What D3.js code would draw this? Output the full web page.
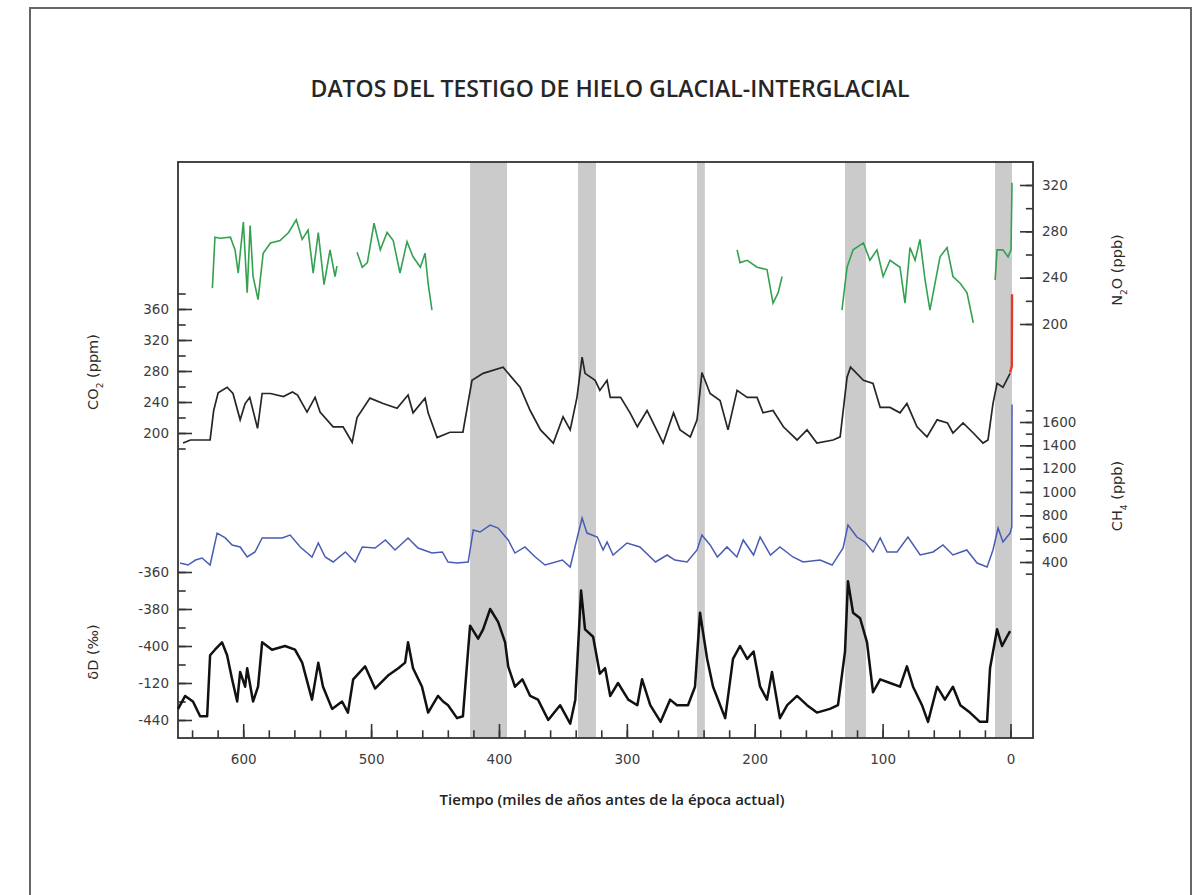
<!DOCTYPE html>
<html>
<head>
<meta charset="utf-8">
<script src="https://cdn.jsdelivr.net/npm/d3@7"></script>
<style>
	body { margin: 0; background: #fff; }
	svg { display: block; }
	.tick text { font-family: "DejaVu Sans", sans-serif; font-size: 13.5px; fill: #3c3c3c; }
	.tick line { stroke: #333; stroke-width: 1.6; }
</style>
</head>
<body>
<div id="chart"></div>
<script>
// ice core data: [thousand years before present, value]
var co2Data = [[647.0,187],[641.3,191],[625.9,191],[623.1,229],[619.6,252],[612.6,259],[608.0,251],[602.4,217],[598.5,238],[594.9,246],[588.8,206],[585.2,251],[578.7,251],[568.6,247],[561.5,253],[557.5,249],[550.1,227],[543.8,246],[539.9,227],[529.7,208],[521.9,208],[514.8,188],[511.0,220],[500.9,245],[490.6,238],[479.7,232],[471.1,249],[467.2,226],[457.8,245],[455.4,226],[448.4,194],[438.3,201],[428.2,201],[421.1,268],[412.4,277],[396.8,285],[392.8,277],[383.5,259],[375.6,229],[367.5,204],[357.5,187],[349.9,221],[344.3,204],[339.0,246],[335.0,298],[332.7,277],[324.8,268],[321.1,255],[315.5,268],[313.0,246],[304.9,246],[297.5,226],[291.8,208],[284.2,229],[271.6,187],[263.5,226],[258.4,204],[250.4,195],[245.1,217],[241.3,278],[234.9,251],[227.1,242],[220.9,204],[213.8,255],[205.9,246],[198.2,246],[193.5,226],[185.7,229],[177.6,208],[166.9,191],[159.1,204],[151.4,187],[138.7,191],[133.2,195],[127.8,272],[125.1,285],[115.0,268],[107.5,264],[101.9,233],[94.2,233],[86.4,226],[81.0,238],[73.1,208],[65.3,195],[57.4,217],[49.3,213],[45.0,200],[37.1,213],[29.1,200],[21.5,187],[17.6,191],[13.7,238],[10.5,264],[5.9,259],[0.3,277]];
var co2Modern = [[0.3,278],[-1.0,286],[-1.2,379]];

var ch4Data = [[649.4,391],[643.2,374],[637.3,417],[632.2,434],[625.9,374],[620.4,648],[614.0,606],[608.7,546],[602.4,529],[596.9,443],[590.8,486],[585.2,606],[577.5,606],[569.6,606],[563.3,631],[555.4,529],[546.2,443],[541.3,563],[535.9,443],[529.7,400],[520.1,486],[512.5,400],[506.9,529],[496.9,520],[488.8,589],[481.3,503],[471.1,606],[463.3,520],[452.4,477],[444.3,486],[439.8,400],[432.8,391],[424.1,400],[420.1,674],[414.8,657],[406.9,717],[400.7,691],[392.8,589],[387.5,477],[379.7,529],[371.6,443],[364.0,374],[350.4,417],[344.3,357],[338.3,631],[335.0,777],[331.2,648],[323.1,614],[318.6,503],[315.5,571],[310.8,460],[299.9,563],[289.8,529],[277.6,400],[268.5,460],[262.5,417],[252.9,400],[245.1,503],[241.3,631],[234.9,546],[229.2,443],[221.7,529],[214.0,443],[209.0,589],[200.9,460],[195.8,614],[187.7,460],[180.3,529],[170.1,443],[162.2,400],[148.9,417],[139.5,374],[130.9,520],[127.1,717],[120.1,614],[113.8,571],[107.5,486],[101.9,606],[96.5,486],[88.7,486],[80.2,614],[70.6,460],[60.5,486],[52.8,546],[45.0,460],[34.2,503],[26.1,391],[18.3,357],[13.7,503],[9.7,691],[5.9,571],[0.3,648],[-1.0,700],[-1.2,1750]];

var n2oSegments = [
	[[624.1,231],[622.1,275],[618.1,274],[610.0,275],[606.4,264],[603.9,244],[599.9,288],[596.9,227],[594.6,285],[592.3,241],[588.4,221],[584.4,261],[578.7,270],[571.2,272],[564.5,279],[558.5,290],[553.9,273],[549.3,281],[545.3,244],[541.3,279],[536.8,234],[532.1,264],[528.2,241],[526.7,250]],
	[[511.0,262],[506.9,249],[502.9,253],[497.7,287],[492.8,264],[487.5,279],[482.7,272],[477.4,244],[471.9,271],[467.2,258],[461.5,249],[457.8,261],[455.4,235],[452.4,212]],
	[[213.8,264],[211.5,253],[205.9,255],[198.2,249],[190.4,247],[185.7,218],[181.7,227],[178.6,241]],
	[[131.8,212],[127.8,249],[123.1,264],[115.0,270],[109.9,255],[104.4,264],[99.6,241],[94.2,255],[86.4,249],[82.5,218],[78.6,266],[74.6,255],[70.8,273],[66.8,238],[63.0,212],[55.1,258],[49.6,266],[45.0,241],[39.2,235],[34.0,227],[29.1,201]],
	[[12.0,238],[10.5,264],[5.9,264],[1.9,258],[-0.4,264],[-1.2,322]]
];

var dDData = [[650.9,-434],[645.4,-427],[639.3,-430],[633.7,-438],[628.2,-438],[625.9,-405],[622.1,-402],[616.6,-398],[612.6,-405],[608.7,-418],[604.7,-430],[602.4,-414],[598.5,-422],[596.9,-412],[592.3,-430],[588.4,-422],[585.2,-398],[577.5,-402],[567.3,-400],[559.5,-402],[553.9,-409],[546.2,-429],[541.3,-409],[537.6,-422],[530.5,-434],[522.7,-430],[518.1,-436],[514.0,-418],[504.7,-411],[496.9,-423],[486.8,-416],[478.7,-412],[473.4,-409],[471.1,-398],[467.2,-412],[460.2,-422],[455.4,-436],[447.7,-427],[443.7,-430],[439.8,-432],[432.8,-439],[428.2,-438],[422.6,-389],[416.3,-396],[412.4,-391],[406.9,-380],[400.7,-387],[395.2,-398],[392.8,-411],[387.5,-422],[381.7,-418],[375.6,-427],[369.5,-429],[361.5,-440],[352.2,-432],[344.3,-442],[340.3,-429],[335.8,-370],[332.7,-391],[326.4,-395],[321.1,-415],[317.0,-412],[313.0,-427],[306.9,-420],[298.9,-429],[291.8,-432],[288.1,-418],[281.7,-432],[273.6,-441],[266.2,-429],[260.8,-432],[252.2,-432],[246.7,-422],[242.8,-382],[237.2,-407],[232.6,-422],[223.1,-439],[217.0,-407],[211.5,-400],[205.9,-407],[200.9,-403],[195.8,-422],[190.4,-429],[186.5,-414],[180.3,-439],[174.6,-432],[166.9,-427],[159.1,-432],[151.4,-436],[141.2,-434],[134.9,-432],[129.4,-403],[127.1,-365],[123.1,-382],[117.6,-385],[112.2,-398],[107.5,-425],[101.9,-418],[94.2,-420],[86.4,-422],[81.0,-411],[76.2,-422],[69.2,-432],[64.5,-441],[57.4,-422],[51.3,-429],[45.0,-422],[39.2,-432],[31.7,-436],[23.9,-441],[18.3,-441],[16.0,-412],[10.5,-391],[6.6,-400],[2.8,-395],[0.3,-392]];

// interglacial periods (shaded)
var interglacials = [[422.6,393.7],[338.2,324.1],[245.1,239.0],[129.4,113.0],[12.1,-1.2]];

// tick values and labels
var timeTicks = [600,500,400,300,200,100,0],
	co2Ticks = [200,240,280,320,360],
	n2oTicks = [200,240,280,320],
	ch4Ticks = [400,600,800,1000,1200,1400,1600],
	dDTicks = [-440,-420,-400,-380,-360],
	dDTickLabels = ["-440","-120","-400","-380","-360"];

var title = "DATOS DEL TESTIGO DE HIELO GLACIAL-INTERGLACIAL",
	xTitle = "Tiempo (miles de años antes de la época actual)";

// layout
var W = 1192, H = 895,
	plotL = 178, plotR = 1033, plotT = 162, plotB = 738;

var svg = d3.select("#chart").append("svg")
	.attr("width", W)
	.attr("height", H);

// outer border of the figure
svg.append("rect")
	.attr("x", 30).attr("y", 8)
	.attr("width", 1161).attr("height", 900)
	.attr("fill", "none")
	.attr("stroke", "#666")
	.attr("stroke-width", 2);

// scales
var x = d3.scaleLinear().domain([651, -17.6]).range([plotL, plotR]);
var co2Y = d3.scaleLinear().domain([200, 360]).range([433, 309]);
var ch4Y = d3.scaleLinear().domain([400, 1600]).range([562, 422]);
var n2oY = d3.scaleLinear().domain([200, 320]).range([324, 185]);
var dDY = d3.scaleLinear().domain([-440, -360]).range([720, 572]);

// shaded interglacials
svg.append("g").selectAll("rect")
	.data(interglacials)
	.enter().append("rect")
	.attr("x", function(d) { return x(d[0]); })
	.attr("width", function(d) { return x(d[1]) - x(d[0]); })
	.attr("y", plotT)
	.attr("height", plotB - plotT)
	.attr("fill", "#cbcbcb");

// axes helper: major ticks with labels + minor ticks without
function drawAxis(axisFn, scale, majors, minors, tx, size, fmt) {
	var g = svg.append("g").attr("transform", tx);
	g.call(axisFn(scale).tickValues(minors).tickSize(-size * 0.55).tickFormat(""));
	var gm = svg.append("g").attr("transform", tx);
	gm.call(axisFn(scale).tickValues(majors).tickSize(-size).tickPadding(9).tickFormat(fmt || d3.format("d")));
	g.select(".domain").remove();
	gm.select(".domain").remove();
	return gm;
}

drawAxis(d3.axisBottom, x, timeTicks, d3.range(640, -1, -20), "translate(0," + plotB + ")", 14)
	.selectAll("text").attr("dy", "1.25em");
drawAxis(d3.axisLeft, co2Y, co2Ticks, d3.range(180, 381, 20), "translate(" + plotL + ",0)", 14);
drawAxis(d3.axisLeft, dDY, dDTicks, d3.range(-440, -359, 10), "translate(" + plotL + ",0)", 14,
	function(d) { return dDTickLabels[dDTicks.indexOf(d)]; });
drawAxis(d3.axisRight, n2oY, n2oTicks, d3.range(200, 321, 20), "translate(" + plotR + ",0)", 13);
drawAxis(d3.axisRight, ch4Y, ch4Ticks, d3.range(300, 1701, 100), "translate(" + plotR + ",0)", 13);

// frame
svg.append("rect")
	.attr("x", plotL).attr("y", plotT)
	.attr("width", plotR - plotL).attr("height", plotB - plotT)
	.attr("fill", "none")
	.attr("stroke", "#333")
	.attr("stroke-width", 1.8);

// series lines
var lineFor = function(yScale) {
	return d3.line()
		.x(function(d) { return x(d[0]); })
		.y(function(d) { return yScale(d[1]); });
};

svg.append("g").selectAll("path")
	.data(n2oSegments)
	.enter().append("path")
	.attr("d", lineFor(n2oY))
	.attr("fill", "none")
	.attr("stroke", "#34a150")
	.attr("stroke-width", 1.6);

svg.append("path")
	.attr("d", lineFor(co2Y)(co2Data))
	.attr("fill", "none")
	.attr("stroke", "#262626")
	.attr("stroke-width", 1.7);

svg.append("path")
	.attr("d", lineFor(co2Y)(co2Modern))
	.attr("fill", "none")
	.attr("stroke", "#e03a2a")
	.attr("stroke-width", 2.4);

svg.append("path")
	.attr("d", lineFor(ch4Y)(ch4Data))
	.attr("fill", "none")
	.attr("stroke", "#4a5bb5")
	.attr("stroke-width", 1.5);

svg.append("path")
	.attr("d", lineFor(dDY)(dDData))
	.attr("fill", "none")
	.attr("stroke", "#111")
	.attr("stroke-width", 2.5)
	.attr("stroke-linejoin", "round");

// titles
svg.append("text")
	.attr("x", 610).attr("y", 97)
	.attr("text-anchor", "middle")
	.style("font-family", "'Open Sans', sans-serif")
	.style("font-weight", 600)
	.style("font-size", "23px")
	.style("fill", "#262626")
	.text(title);

svg.append("text")
	.attr("x", 612).attr("y", 805)
	.attr("text-anchor", "middle")
	.style("font-family", "'Open Sans', sans-serif")
	.style("font-weight", 600)
	.style("font-size", "15px")
	.style("fill", "#222")
	.text(xTitle);

// rotated axis labels with subscripts
function sideLabel(cx, cy, pre, sub, post) {
	var t = svg.append("text")
		.attr("transform", "translate(" + cx + "," + cy + ") rotate(-90)")
		.attr("text-anchor", "middle")
		.style("font-family", "'DejaVu Sans', sans-serif")
		.style("font-size", "14.5px")
		.style("fill", "#2a2a2a");
	t.append("tspan").text(pre);
	if (sub) t.append("tspan").attr("baseline-shift", "sub").style("font-size", "9px").text(sub);
	t.append("tspan").text(post);
}
sideLabel(98, 372, "CO", "2", " (ppm)");
sideLabel(98, 652, "\u03b4D (\u2030)", "", "");
sideLabel(1122, 270, "N", "2", "O (ppb)");
sideLabel(1122, 496, "CH", "4", " (ppb)");
</script>
</body>
</html>
